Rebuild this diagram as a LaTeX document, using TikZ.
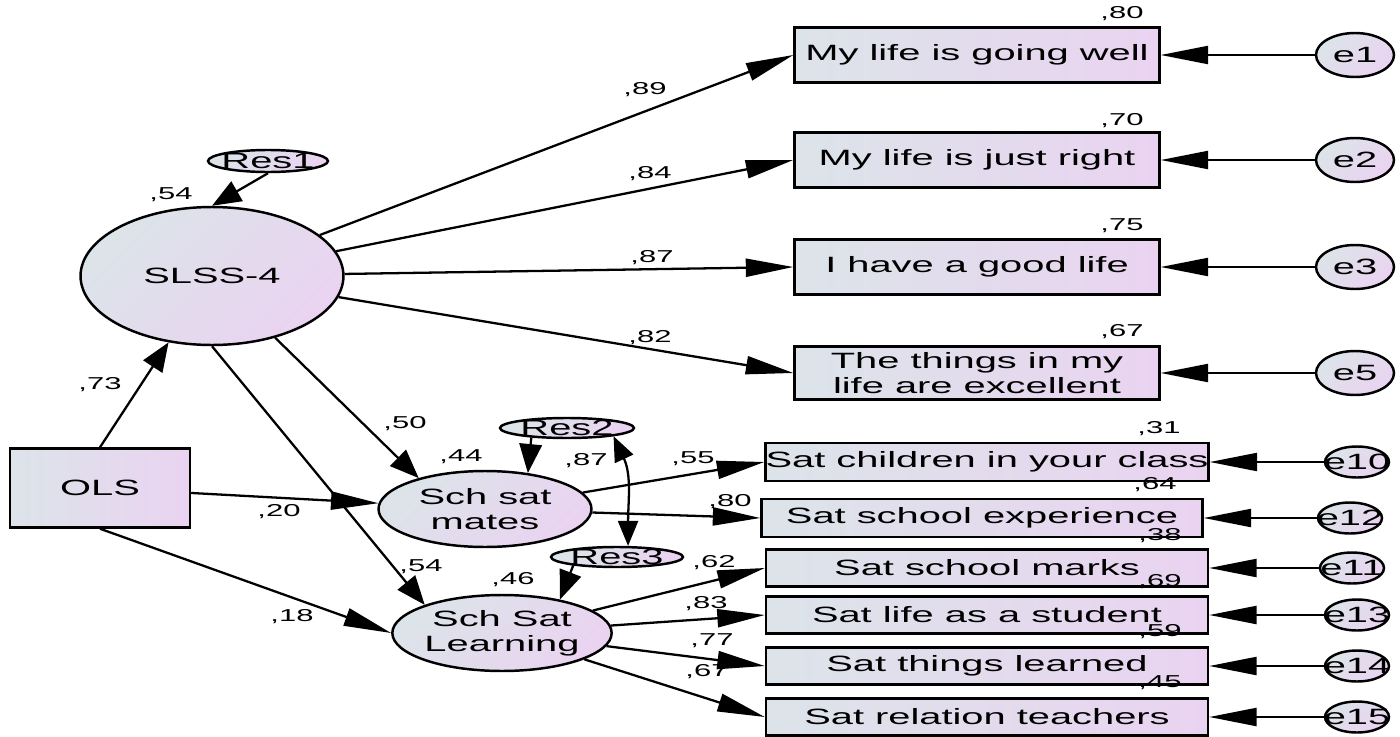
\documentclass[tikz,border=0pt]{standalone}
\usepackage{fontspec}
\usepackage{tikz}
\usetikzlibrary{shapes.geometric, arrows.meta}

\newfontfamily\amosfont{Liberation Sans}[FakeStretch=1.8]
\definecolor{boxgray}{RGB}{220,228,233}
\definecolor{boxlilac}{RGB}{234,211,241}

\tikzset{
    obs/.style={draw, line width=1.4pt, left color=boxgray, right color=boxlilac,
        inner sep=0pt, align=center, font=\amosfont\fontsize{12.6}{14}\selectfont},
    lat/.style={ellipse, draw, line width=1.4pt, left color=boxgray, right color=boxlilac,
        shading angle=45, inner sep=0pt, align=center, font=\amosfont\fontsize{12.6}{14}\selectfont},
    etext/.style={font=\amosfont\fontsize{12.6}{14}\selectfont, inner sep=0pt},
    num/.style={font=\amosfont\fontsize{9.8}{11}\selectfont, inner sep=0pt},
    load/.style={line width=1.3pt, -{Triangle[length=0.95cm, width=0.36cm]}},
    steep/.style={line width=1.3pt, -{Triangle[length=0.58cm, width=0.45cm]}},
    cov/.style={line width=1.3pt, {Triangle[length=0.5cm, width=0.4cm]}-{Triangle[length=0.5cm, width=0.4cm]}},
}

\begin{document}
\begin{tikzpicture}[x=0.02cm, y=-0.02cm]
    \useasboundingbox (0,0) rectangle (1400,737);

    % latent and exogenous
    \node[lat, minimum width=5.26cm, minimum height=2.76cm] (slss) at (212,276) {SLSS-4};
    \node[lat, minimum width=4.26cm, minimum height=1.52cm] (mates) at (485,509) {Sch sat\\mates};
    \node[lat, minimum width=4.24cm, minimum height=1.52cm] (learn) at (502,633) {Sch Sat\\Learning};
    \node[obs, minimum width=3.6cm, minimum height=1.58cm] (ols) at (100,488) {OLS};

    % residuals
    \node[lat, minimum width=2.4cm, minimum height=0.44cm, label={[etext]center:Res1}] (res1) at (268,161) {};
    \node[lat, minimum width=2.68cm, minimum height=0.4cm, label={[etext]center:Res2}] (res2) at (567,428) {};
    \node[lat, minimum width=2.64cm, minimum height=0.4cm, label={[etext]center:Res3}] (res3) at (617,557) {};

    % SLSS items
    \node[obs, minimum width=7.3cm, minimum height=1.1cm] (going) at (977,55) {My life is going well};
    \node[obs, minimum width=7.3cm, minimum height=1.1cm] (right) at (977,160) {My life is just right};
    \node[obs, minimum width=7.3cm, minimum height=1.1cm] (good) at (977,267) {I have a good life};
    \node[obs, minimum width=7.3cm, minimum height=1.06cm] (things) at (977,373) {The things in my\\life are excellent};

    % school items
    \node[obs, minimum width=8.84cm, minimum height=0.76cm] (children) at (987,462) {Sat children in your class};
    \node[obs, minimum width=8.82cm, minimum height=0.76cm] (experience) at (982,518) {Sat school experience};
    \node[obs, minimum width=8.84cm, minimum height=0.74cm] (marks) at (987,568) {Sat school marks};
    \node[obs, minimum width=8.84cm, minimum height=0.74cm] (student) at (987,615) {Sat life as a student};
    \node[obs, minimum width=8.84cm, minimum height=0.74cm] (learned) at (987,666) {Sat things learned};
    \node[obs, minimum width=8.84cm, minimum height=0.74cm] (teachers) at (987,717) {Sat relation teachers};

    % error terms
    \node[lat, minimum width=1.56cm, minimum height=0.88cm, label={[etext]center:e1}] (e1) at (1355,55) {};
    \node[lat, minimum width=1.56cm, minimum height=0.88cm, label={[etext]center:e2}] (e2) at (1355,160) {};
    \node[lat, minimum width=1.56cm, minimum height=0.88cm, label={[etext]center:e3}] (e3) at (1355,267) {};
    \node[lat, minimum width=1.56cm, minimum height=0.88cm, label={[etext]center:e5}] (e5) at (1355,373) {};
    \node[lat, minimum width=1.28cm, minimum height=0.62cm, label={[etext]center:e10}] (e10) at (1357,462) {};
    \node[lat, minimum width=1.28cm, minimum height=0.62cm, label={[etext]center:e12}] (e12) at (1350,518) {};
    \node[lat, minimum width=1.28cm, minimum height=0.62cm, label={[etext]center:e11}] (e11) at (1352,568) {};
    \node[lat, minimum width=1.28cm, minimum height=0.62cm, label={[etext]center:e13}] (e13) at (1357,615) {};
    \node[lat, minimum width=1.28cm, minimum height=0.62cm, label={[etext]center:e14}] (e14) at (1357,666) {};
    \node[lat, minimum width=1.28cm, minimum height=0.62cm, label={[etext]center:e15}] (e15) at (1357,717) {};

    % structural paths
    \draw[steep] (ols.north) -- (slss);
    \draw[load] (ols) -- (mates);
    \draw[load] (ols.south) -- (learn.west);
    \draw[steep] (slss) -- (mates.155);
    \draw[steep] (slss.south) -- (learn.160);
    \draw[steep] (res1.south) -- (slss.north);
    \draw[steep] (res2.195) -- (mates.40);
    \draw[steep] (res3.191) -- (learn.30);
    \draw[cov] (res2.-10) to[out=-65, in=90] (res3.45);

    % loadings
    \foreach \item in {going, right, good, things}
        \draw[load] (slss) -- (\item.west);
    \foreach \item in {children, experience}
        \draw[load] (mates) -- (\item.west);
    \foreach \item in {marks, student, learned, teachers}
        \draw[load] (learn) -- (\item.west);
    \foreach \err/\item in {e1/going, e2/right, e3/good, e5/things, e10/children,
        e12/experience, e11/marks, e13/student, e14/learned, e15/teachers}
        \draw[load] (\err) -- (\item);

    % squared multiple correlations
    \node[num] (r-slss) at (171,195) {,54};
    \node[num] (r-mates) at (461,457) {,44};
    \node[num] (r-learn) at (513,580) {,46};
    \node[num] (r-going) at (1122,14) {,80};
    \node[num] (r-right) at (1122,121) {,70};
    \node[num] (r-good) at (1122,226) {,75};
    \node[num] (r-things) at (1122,332) {,67};
    \node[num] (r-children) at (1159,429) {,31};
    \node[num] (r-experience) at (1155,485) {,64};
    \node[num] (r-marks) at (1160,536) {,38};
    \node[num] (r-student) at (1160,582) {,69};
    \node[num] (r-learned) at (1160,632) {,59};
    \node[num] (r-teachers) at (1160,683) {,45};

    % standardized coefficients
    \node[num] (p-ols) at (100,385) {,73};
    \node[num] (p-olsmates) at (279,512) {,20};
    \node[num] (p-olslearn) at (292,617) {,18};
    \node[num] (p-mates) at (405,424) {,50};
    \node[num] (p-learn) at (421,567) {,54};
    \node[num] (p-cov) at (586,461) {,87};
    \node[num] (p-going) at (645,90) {,89};
    \node[num] (p-right) at (650,174) {,84};
    \node[num] (p-good) at (652,258) {,87};
    \node[num] (p-things) at (650,338) {,82};
    \node[num] (p-children) at (693,459) {,55};
    \node[num] (p-experience) at (730,502) {,80};
    \node[num] (p-marks) at (714,563) {,62};
    \node[num] (p-student) at (706,604) {,83};
    \node[num] (p-learned) at (712,641) {,77};
    \node[num] (p-teachers) at (707,672) {,67};
\end{tikzpicture}
\end{document}
